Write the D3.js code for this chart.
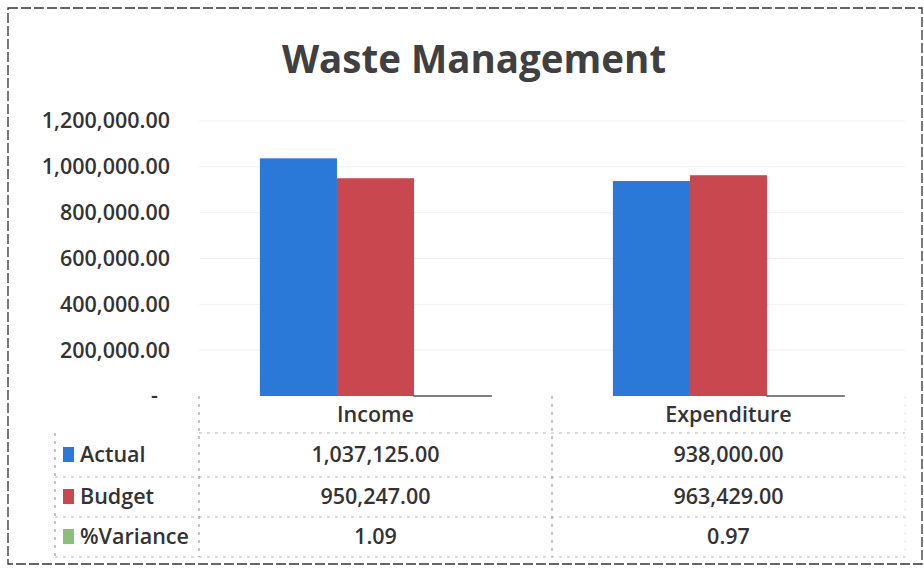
<!DOCTYPE html>
<html>
<head>
<meta charset="utf-8">
<script src="https://cdn.jsdelivr.net/npm/d3@7"></script>
<style>
  body { margin: 0; background: #fff; }
  text { font-family: "Open Sans", sans-serif; fill: #333; font-weight: 600; }
</style>
</head>
<body>
<script>
// chart data
const categories = ['Income', 'Expenditure']
const seriesNames = ['Actual', 'Budget', '%Variance']
const actual = [1037125.00, 938000.00]
const budget = [950247.00, 963429.00]
const variance = [1.09, 0.97]
const yTicks = [0, 200000, 400000, 600000, 800000, 1000000, 1200000]

const m = {
    width: 924,
    height: 569,
    top: 121,
    bottom: 396,
    left: 199,
    right: 905
}

const colors = { 'Actual': '#2a78d8', 'Budget': '#c9474f', '%Variance': '#8cc07a' }
const values = { 'Actual': actual, 'Budget': budget, '%Variance': variance }
const fs = '21.5px'

const svg = d3.select('body').append('svg')
    .attr('width', m.width)
    .attr('height', m.height)

// outer frame (scanned dashed look)
svg.append('rect')
    .attr('x', 8).attr('y', 8)
    .attr('width', m.width - 10).attr('height', m.height - 13)
    .attr('fill', 'none')
    .attr('stroke', '#333')
    .attr('stroke-width', 1.3)
    .attr('stroke-dasharray', '10,3')

svg.append('text')
    .attr('x', 474)
    .attr('y', 73)
    .attr('text-anchor', 'middle')
    .style('font-size', '38.5px')
    .style('font-weight', 'bold')
    .style('fill', '#404040')
    .text('Waste Management')

const y = d3.scaleLinear()
    .domain([0, 1200000])
    .range([m.bottom, m.top])

const x0 = d3.scaleBand()
    .domain(categories)
    .range([m.left, m.right])

const x1 = d3.scaleBand()
    .domain(seriesNames)
    .range([0, x0.bandwidth()])
    .paddingOuter(0.79)

// faint gridlines
svg.append('g')
    .selectAll('line')
    .data(yTicks.slice(1))
    .enter()
    .append('line')
        .attr('x1', m.left).attr('x2', m.right)
        .attr('y1', d => y(d)).attr('y2', d => y(d))
        .attr('stroke', '#f0f0f0')

// y axis labels
const yAxis = d3.axisLeft(y)
    .tickValues(yTicks)
    .tickSize(0)
    .tickPadding(0)
    .tickFormat(d => d === 0 ? '-' : d3.format(',.2f')(d))

const yg = svg.append('g')
    .attr('transform', 'translate(170,0)')
    .call(yAxis)
yg.select('.domain').remove()
yg.selectAll('text')
    .style('font-size', fs)
    .style('font-family', '"Open Sans", sans-serif')
    .style('fill', '#333')
yg.selectAll('.tick').filter(d => d === 0).select('text')
    .attr('dx', -12)

// bars
const groups = svg.append('g')
    .selectAll('g')
    .data(categories)
    .enter()
    .append('g')
        .attr('transform', d => 'translate(' + x0(d) + ',0)')

groups.selectAll('rect')
    .data((c, i) => seriesNames.map(s => ({ s: s, v: values[s][i] })))
    .enter()
    .append('rect')
        .attr('x', d => x1(d.s))
        .attr('y', d => y(d.v))
        .attr('width', x1.bandwidth())
        .attr('height', d => y(0) - y(d.v))
        .attr('fill', d => colors[d.s])
        .attr('stroke', d => d.s === '%Variance' ? '#555' : 'none')
        .attr('stroke-width', 1.5)

// data table
const rowTop = 396
const rows = [433, 477, 517, 557]

svg.append('g')
    .selectAll('text')
    .data(categories)
    .enter()
    .append('text')
        .attr('x', d => x0(d) + x0.bandwidth() / 2)
        .attr('y', 422)
        .attr('text-anchor', 'middle')
        .style('font-size', fs)
        .text(d => d)

const grid = svg.append('g')
    .attr('stroke', '#bbb')
    .attr('stroke-width', 1)
    .attr('stroke-dasharray', '3,5')

grid.selectAll('.h')
    .data(rows)
    .enter()
    .append('line')
        .attr('x1', (d, i) => i === 0 ? m.left : 55)
        .attr('x2', m.right)
        .attr('y1', d => d).attr('y2', d => d)

grid.selectAll('.v')
    .data([m.left, x0('Expenditure'), m.right])
    .enter()
    .append('line')
        .attr('x1', d => d).attr('x2', d => d)
        .attr('y1', rowTop).attr('y2', rows[3])
        .attr('stroke', (d, i) => i === 2 ? '#e4e4e4' : '#888')

grid.append('line')
    .attr('x1', 55).attr('x2', 55)
    .attr('y1', rows[0]).attr('y2', rows[3])
    .attr('stroke', '#888')

// table rows
seriesNames.forEach(function(s, r) {
    const cy = (rows[r] + rows[r + 1]) / 2
    svg.append('rect')
        .attr('x', 63)
        .attr('y', cy - 8)
        .attr('width', 11)
        .attr('height', 15)
        .attr('fill', colors[s])
    svg.append('text')
        .attr('x', 80)
        .attr('y', cy + 7)
        .style('font-size', fs)
        .text(s)
    svg.selectAll('.cell' + r)
        .data(categories)
        .enter()
        .append('text')
            .attr('x', d => x0(d) + x0.bandwidth() / 2)
            .attr('y', cy + 7)
            .attr('text-anchor', 'middle')
            .style('font-size', fs)
            .text((d, i) => d3.format(',.2f')(values[s][i]))
})
</script>
</body>
</html>
